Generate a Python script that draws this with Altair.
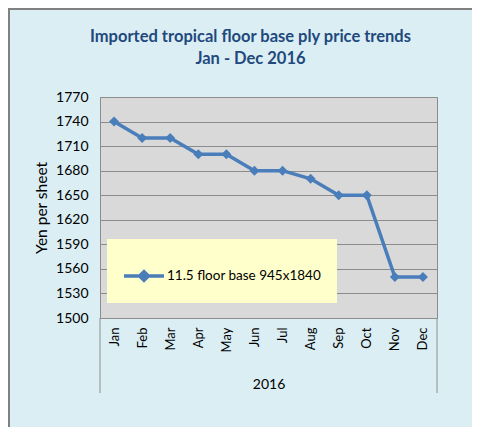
import altair as alt
import pandas as pd

months = ["Jan", "Feb", "Mar", "Apr", "May", "Jun", "Jul", "Aug", "Sep", "Oct", "Nov", "Dec"]
prices = [1740, 1720, 1720, 1700, 1700, 1680, 1680, 1670, 1650, 1650, 1550, 1550]
series_name = "11.5 floor base 945x1840"
y_ticks = [1500, 1530, 1560, 1590, 1620, 1650, 1680, 1710, 1740, 1770]

df = pd.DataFrame({"month": months, "price": prices, "series": [series_name] * len(months)})

FONT = "Lato"
BLUE = "#4A7EBB"
W, H = 337, 221

x_enc = alt.X("month:N", sort=months, scale=alt.Scale(type="point", padding=0.5),
              axis=alt.Axis(title="2016", labelAngle=270, labelPadding=9, ticks=False, tickSize=0,
                            domain=True, domainColor="#8C8C8C", labelFont=FONT, labelFontSize=13,
                            labelColor="#000000", titleFont=FONT, titleFontSize=14,
                            titleFontWeight="normal", titleColor="#000000",
                            titleY=70, titleBaseline="alphabetic", grid=False))
y_enc = alt.Y("price:Q", scale=alt.Scale(domain=[1500, 1770], nice=False, zero=False),
              axis=alt.Axis(title="Yen per sheet", values=y_ticks, format="d", ticks=False, tickSize=0,
                            labelPadding=12, domain=False, grid=True, gridColor="#8C8C8C",
                            gridWidth=1, labelFont=FONT, labelFontSize=14, labelColor="#000000",
                            titleFont=FONT, titleFontSize=15.5, titleFontWeight="normal",
                            titleColor="#000000", titleX=-59, titleY=H / 2,
                            titleAngle=270, titleBaseline="middle", titleAlign="center"))

color = alt.Color("series:N", scale=alt.Scale(range=[BLUE]),
                  legend=alt.Legend(title=None, orient="none", legendX=7, legendY=142,
                                    fillColor="#FFFFCC", padding=15,
                                    symbolType="M-1,0L1,0M-0.22,0L0,-0.22L0.22,0L0,0.22Z",
                                    symbolSize=1600, symbolStrokeWidth=3.5,
                                    symbolFillColor=BLUE, symbolStrokeColor=BLUE,
                                    labelFont=FONT, labelFontSize=13.5, labelColor="#000000",
                                    labelOffset=1, labelLimit=300))

line = alt.Chart(df).mark_line(strokeWidth=3.5).encode(x=x_enc, y=y_enc, color=color)
pts = alt.Chart(df).mark_point(shape="diamond", filled=True, size=100, opacity=1).encode(
    x=x_enc, y=y_enc, color=color)

deco = pd.DataFrame({"d": [0]})
sep_left = alt.Chart(deco).mark_rule(color="#8C8C8C", strokeWidth=1).encode(
    x=alt.value(0), y=alt.value(H), y2=alt.value(H + 75))
sep_right = alt.Chart(deco).mark_rule(color="#8C8C8C", strokeWidth=1).encode(
    x=alt.value(W), y=alt.value(H), y2=alt.value(H + 75))
border_top = alt.Chart(deco).mark_rule(color="#808080", strokeWidth=2).encode(
    x=alt.value(-92), x2=alt.value(380), y=alt.value(-88))
border_left = alt.Chart(deco).mark_rule(color="#808080", strokeWidth=2).encode(
    x=alt.value(-91), y=alt.value(-89), y2=alt.value(340))

chart = alt.layer(border_top, border_left, line, pts, sep_left, sep_right).properties(
    width=W, height=H,
    autosize=alt.AutoSizeParams(type="none"),
    padding={"left": 92, "top": 89, "right": 35, "bottom": 109},
    background="#DBEEF4",
    title=alt.TitleParams(text=["Imported tropical floor base ply price trends", "Jan - Dec 2016"],
                          anchor="middle", frame="group", dx=-18, font=FONT, fontSize=16.5,
                          fontWeight="bold", color="#1F497D", lineHeight=22, offset=-60),
).configure_view(fill="#D9D9D9", stroke="#8C8C8C", strokeWidth=1)

chart.save("out.html", embed_options={"renderer": "svg", "actions": False})
